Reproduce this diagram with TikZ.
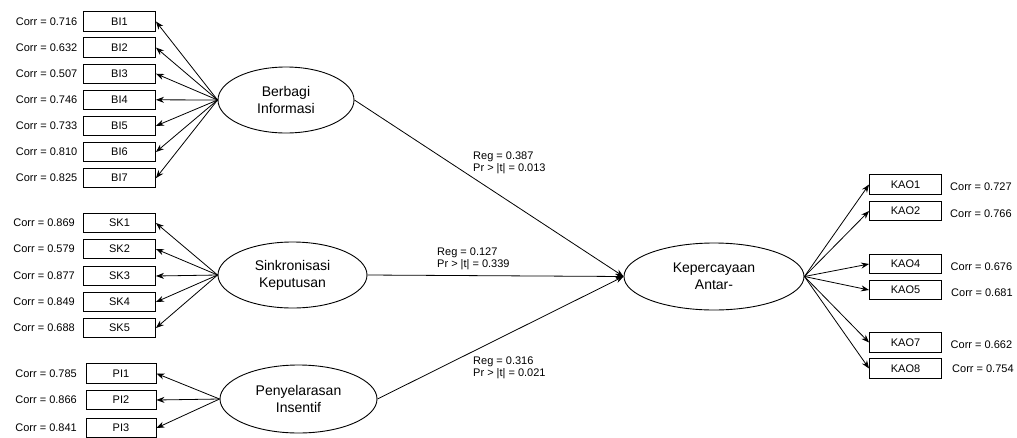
\documentclass[tikz,border=0pt]{standalone}
\usepackage{fontspec}
\setmainfont{Liberation Sans}
\usetikzlibrary{shapes.geometric,arrows.meta}
\tikzset{
  ind/.style={draw, line width=0.9pt, minimum width=72pt, minimum height=19.5pt, inner sep=0pt, font=\fontsize{11}{12}\selectfont},
  lat/.style={draw, ellipse, line width=0.9pt, inner sep=0pt, align=center, font=\fontsize{14}{17}\selectfont},
  lbl/.style={inner sep=0pt, font=\fontsize{11}{12}\selectfont},
  reglbl/.style={inner sep=0pt, anchor=north west, align=left, font=\fontsize{11}{12.5}\selectfont},
  conn/.style={line width=0.8pt, -{Stealth[length=8pt,width=6pt]}},
}
\begin{document}
\begin{tikzpicture}[x=1pt,y=-1pt]
\useasboundingbox (0,0) rectangle (1017,437);
% latent variables
\node[lat, minimum width=136pt, minimum height=66pt] (BI) at (286,100) {Berbagi\\Informasi};
\node[lat, minimum width=149pt, minimum height=66pt] (SK) at (292.5,275) {Sinkronisasi\\Keputusan};
\node[lat, minimum width=157pt, minimum height=68pt] (PI) at (298.5,399) {Penyelarasan\\Insentif};
\node[lat, minimum width=180pt, minimum height=67pt] (KAO) at (714,276.5) {Kepercayaan\\Antar-};
% BI indicators
\foreach \i/\y/\c in {1/21.5/0.716, 2/47.6/0.632, 3/73.7/0.507, 4/99.8/0.746, 5/125.9/0.733, 6/152/0.810, 7/178.1/0.825}{
  \node[ind] (BI\i) at (119.5,\y) {BI\i};
  \node[lbl, anchor=east] (cBI\i) at (77.5,\y) {Corr = \c};
  \draw[conn] (BI.west) -- (BI\i.east);
}
% SK indicators
\foreach \i/\y/\c in {1/223/0.869, 2/249/0.579, 3/276/0.877, 4/302/0.849, 5/328/0.688}{
  \node[ind] (SK\i) at (119.5,\y) {SK\i};
  \node[lbl, anchor=east] (cSK\i) at (75,\y) {Corr = \c};
  \draw[conn] (SK.west) -- (SK\i.east);
}
% PI indicators
\foreach \i/\y/\c in {1/373.5/0.785, 2/400/0.866, 3/428/0.841}{
  \node[ind, minimum width=70pt] (PI\i) at (121,\y) {PI\i};
  \node[lbl, anchor=east] (cPI\i) at (77,\y) {Corr = \c};
  \draw[conn] (PI.west) -- (PI\i.east);
}
% KAO indicators
\foreach \i/\y/\ly/\lx/\c in {1/184.5/186.5/950/0.727, 2/211/213.5/950/0.766, 4/264/267/950.5/0.676, 5/290/293/951/0.681, 7/342.5/345/950.5/0.662, 8/368.5/368.5/952/0.754}{
  \node[ind] (KAO\i) at (905.5,\y) {KAO\i};
  \node[lbl, anchor=west] (cKAO\i) at (\lx,\ly) {Corr = \c};
  \draw[conn] (KAO.east) -- (KAO\i.west);
}
% structural paths
\draw[conn] (BI.east) -- (KAO.west);
\draw[conn] (SK.east) -- (KAO.west);
\draw[conn] (PI.east) -- (KAO.west);
\node[reglbl] (r1) at (473,151.5) {Reg = 0.387\\Pr > |t| = 0.013};
\node[reglbl] (r2) at (437,247.5) {Reg = 0.127\\Pr > |t| = 0.339};
\node[reglbl] (r3) at (473,356.5) {Reg = 0.316\\Pr > |t| = 0.021};
\end{tikzpicture}
\end{document}
